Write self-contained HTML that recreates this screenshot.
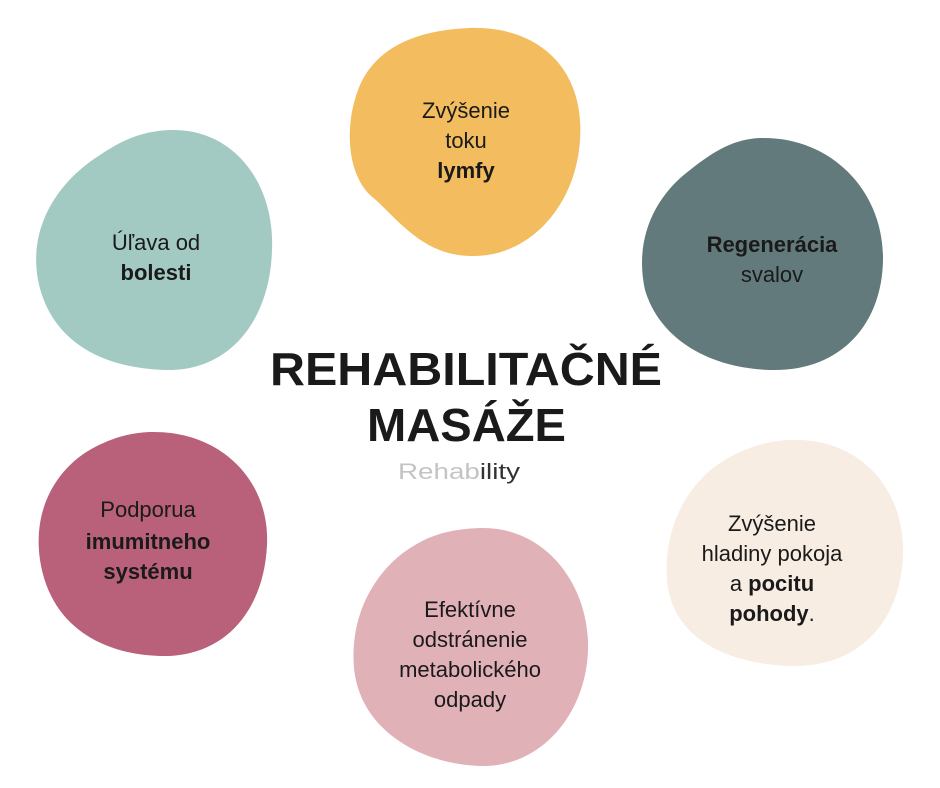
<!DOCTYPE html>
<html><head><meta charset="utf-8"><style>
html,body{margin:0;padding:0;background:#fff;}
svg{display:block;}
text{font-family:"Liberation Sans","DejaVu Sans",sans-serif;fill:#1a1a1a;}
.t{font-size:22px;text-anchor:middle;}
.b{font-weight:bold;}
</style></head><body>
<svg width="940" height="788" viewBox="0 0 940 788" xmlns="http://www.w3.org/2000/svg">
<!-- yellow -->
<path d="M470 28 C540 26 585 70 580 140 C576 205 530 258 470 256 C420 255 395 215 370 195 C345 170 345 120 360 85 C378 45 420 30 470 28 Z" fill="#f2bc5f"/>
<!-- teal -->
<path d="M170 130 C235 128 275 185 272 250 C270 320 230 372 165 370 C100 368 50 340 38 280 C28 225 60 180 100 155 C125 138 145 131 170 130 Z" fill="#a3c9c3"/>
<!-- slate -->
<path d="M760 138 C830 136 884 190 883 260 C882 325 840 372 770 370 C710 368 660 340 645 290 C635 245 650 200 690 170 C715 150 735 139 760 138 Z" fill="#637a7c"/>
<!-- maroon -->
<path d="M150 432 C220 430 270 480 267 545 C264 610 225 658 160 656 C100 654 50 625 40 560 C32 505 60 465 95 447 C115 437 130 433 150 432 Z" fill="#b9607b"/>
<!-- pink -->
<path d="M480 528 C545 526 590 585 588 650 C586 715 540 768 480 766 C420 764 360 730 354 668 C349 610 380 565 415 545 C435 533 455 529 480 528 Z" fill="#e1b1b8"/>
<!-- cream -->
<path d="M800 440 C862 442 905 490 903 555 C901 620 860 668 790 666 C730 664 672 640 667 580 C663 525 690 478 730 457 C752 445 775 439 800 440 Z" fill="#f7ede3"/>

<text class="t" x="466" y="118">Zvýšenie</text>
<text class="t" x="466" y="148">toku</text>
<text class="t b" x="466" y="178">lymfy</text>

<text class="t" x="156" y="250">Úľava od</text>
<text class="t b" x="156" y="280">bolesti</text>

<text class="t b" x="772" y="252">Regenerácia</text>
<text class="t" x="772" y="282">svalov</text>

<text class="t" x="148" y="517">Podporua</text>
<text class="t b" x="148" y="549">imumitneho</text>
<text class="t b" x="148" y="579">systému</text>

<text class="t" x="470" y="617">Efektívne</text>
<text class="t" x="470" y="647">odstránenie</text>
<text class="t" x="470" y="677">metabolického</text>
<text class="t" x="470" y="707">odpady</text>

<text class="t" x="772" y="531">Zvýšenie</text>
<text class="t" x="772" y="561">hladiny pokoja</text>
<text class="t" x="772" y="591">a <tspan class="b">pocitu</tspan></text>
<text class="t" x="772" y="621"><tspan class="b">pohody</tspan>.</text>

<text x="270" y="385" font-size="46" font-weight="bold" textLength="392" lengthAdjust="spacingAndGlyphs">REHABILITAČNÉ</text>
<text x="367" y="441" font-size="46" font-weight="bold" textLength="199" lengthAdjust="spacingAndGlyphs">MASÁŽE</text>
<text x="398" y="479" font-size="22" textLength="122" lengthAdjust="spacingAndGlyphs"><tspan fill="#c4c4c4">Rehab</tspan><tspan fill="#333">ility</tspan></text>
</svg>
</body></html>
